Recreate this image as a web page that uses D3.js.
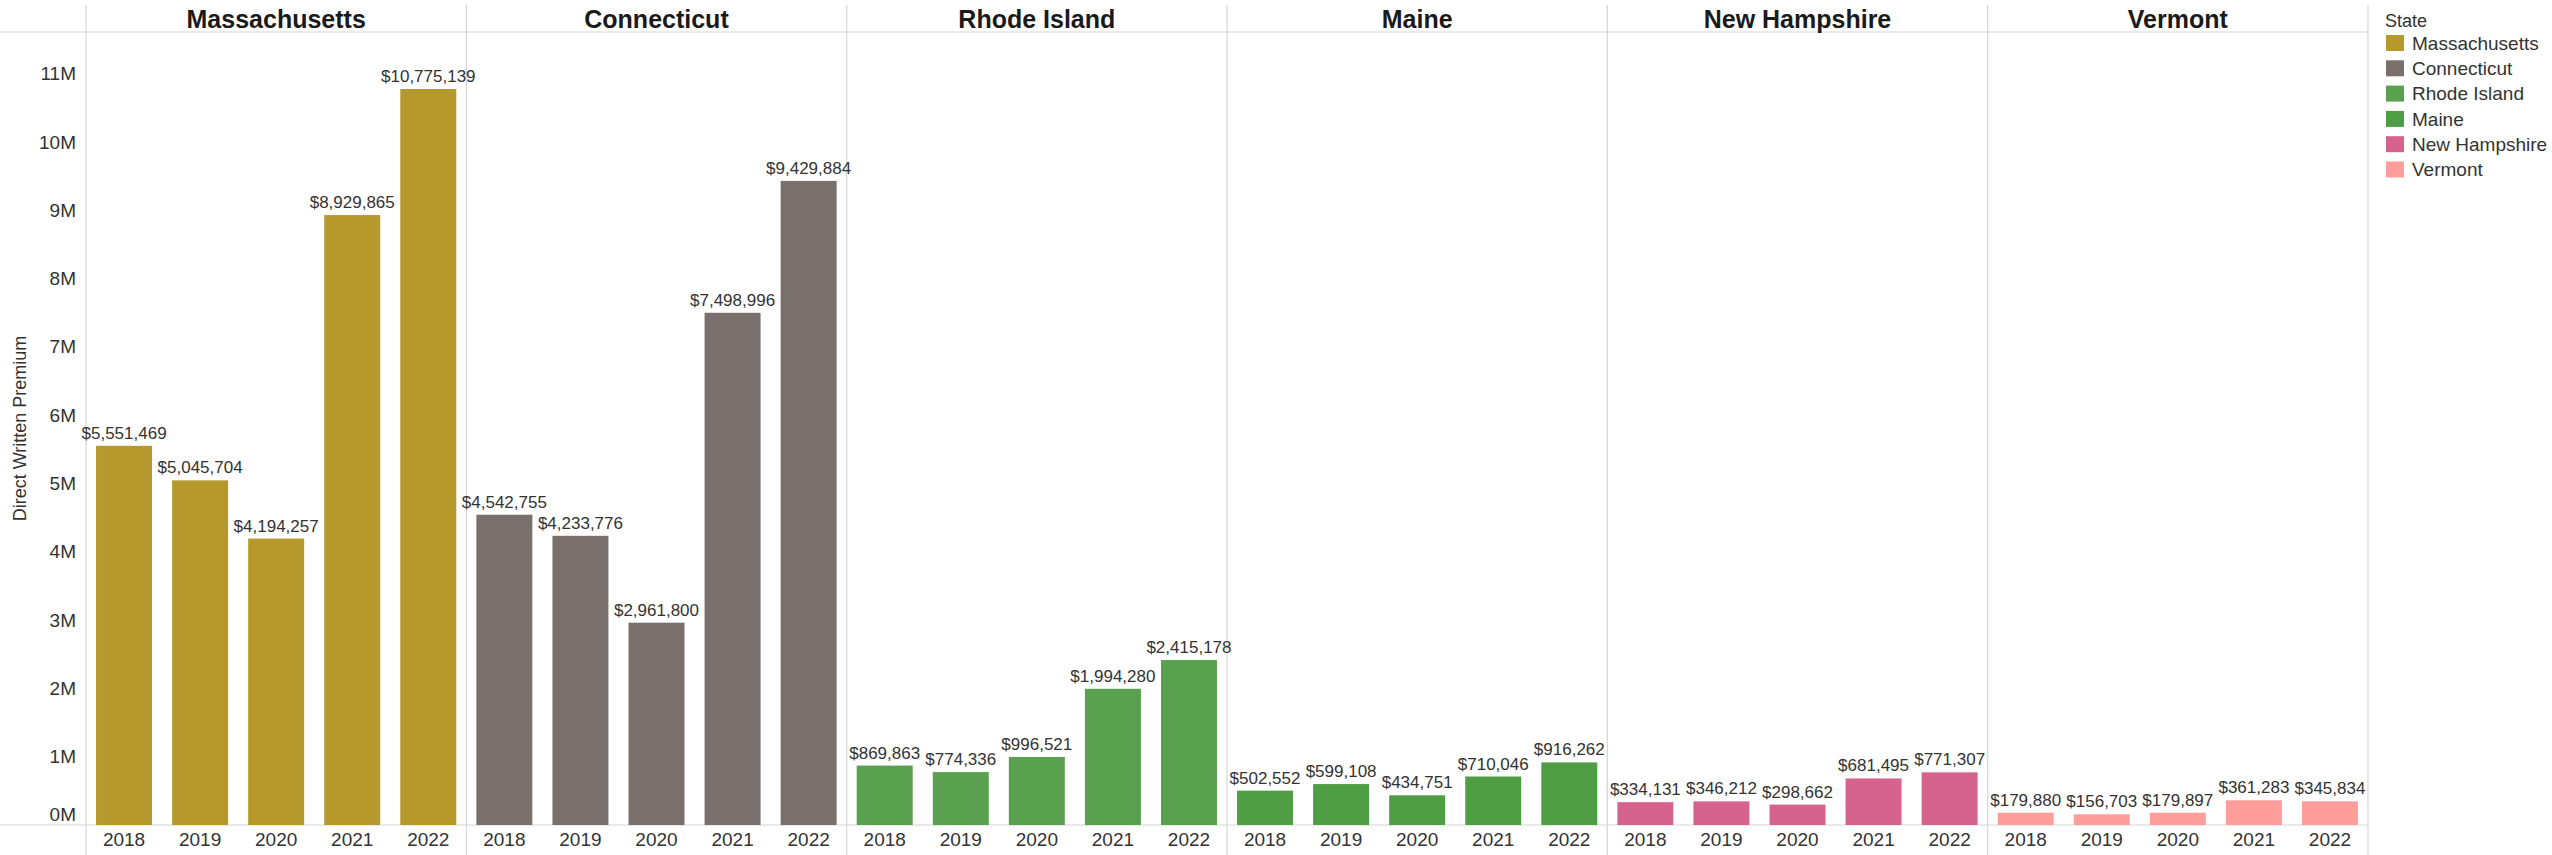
<!DOCTYPE html>
<html>
<head>
<meta charset="utf-8">
<script src="https://cdn.jsdelivr.net/npm/d3@7/dist/d3.min.js"></script>
<style>
  html, body { margin: 0; padding: 0; background: #fff; }
  svg { display: block; font-family: "Liberation Sans", Arial, sans-serif; }
</style>
</head>
<body>
<svg id="chart" width="2552" height="855"></svg>
<script>
// Direct written premium by state and year
const states = ["Massachusetts", "Connecticut", "Rhode Island", "Maine", "New Hampshire", "Vermont"];
const years = ["2018", "2019", "2020", "2021", "2022"];
const massachusetts = [5551469, 5045704, 4194257, 8929865, 10775139];
const connecticut   = [4542755, 4233776, 2961800, 7498996, 9429884];
const rhodeIsland   = [869863, 774336, 996521, 1994280, 2415178];
const maine         = [502552, 599108, 434751, 710046, 916262];
const newHampshire  = [334131, 346212, 298662, 681495, 771307];
const vermont       = [179880, 156703, 179897, 361283, 345834];
const yTicks = [0, 1e6, 2e6, 3e6, 4e6, 5e6, 6e6, 7e6, 8e6, 9e6, 10e6, 11e6];
const stateColors = ["#b6992d", "#79706e", "#59a14f", "#4f9d45", "#d6638c", "#ff9d9a"];

const seriesByState = {
  "Massachusetts": massachusetts,
  "Connecticut": connecticut,
  "Rhode Island": rhodeIsland,
  "Maine": maine,
  "New Hampshire": newHampshire,
  "Vermont": vermont
};

const rows = [];
states.forEach(s => years.forEach((yr, i) => rows.push({ state: s, year: yr, value: seriesByState[s][i] })));

const svg = d3.select("#chart");
const plotLeft = 86, plotRight = 2368, plotTop = 32, plotBottom = 825;
const lineColor = "#d6d6d6";

const fx = d3.scaleBand().domain(states).range([plotLeft, plotRight]);
const x = d3.scaleBand().domain(years).range([0, fx.bandwidth()])
  .paddingInner(0.264).paddingOuter(0.132);
const y = d3.scaleLinear().domain([0, 11610000]).range([plotBottom, plotTop]);
const color = d3.scaleOrdinal().domain(states).range(stateColors);
const money = d3.format("$,");

// frame lines
svg.append("g").selectAll("line.v")
  .data(d3.range(states.length + 1))
  .join("line")
  .attr("x1", i => plotLeft + i * fx.bandwidth())
  .attr("x2", i => plotLeft + i * fx.bandwidth())
  .attr("y1", 5).attr("y2", 855)
  .attr("stroke", lineColor).attr("stroke-width", 1.2);

svg.append("g").selectAll("line.h")
  .data([plotTop, plotBottom])
  .join("line")
  .attr("x1", 0).attr("x2", plotRight)
  .attr("y1", d => d).attr("y2", d => d)
  .attr("stroke", lineColor).attr("stroke-width", 1.2);

// y axis
const yAxis = svg.append("g")
  .attr("transform", `translate(${plotLeft},0)`)
  .call(d3.axisLeft(y).tickValues(yTicks).tickSize(0).tickPadding(10)
    .tickFormat(d => (d / 1e6) + "M"));
yAxis.select(".domain").remove();
yAxis.selectAll("text")
  .attr("font-size", 19).attr("fill", "#333").attr("font-family", "Liberation Sans, Arial, sans-serif")
  .attr("transform", d => d === 0 ? "translate(0,-11)" : null);

svg.append("text")
  .attr("transform", `translate(26,${(plotTop + plotBottom) / 2}) rotate(-90)`)
  .attr("text-anchor", "middle")
  .attr("font-size", 18).attr("fill", "#333")
  .text("Direct Written Premium");

// panels
const panel = svg.selectAll("g.panel")
  .data(states)
  .join("g")
  .attr("class", "panel")
  .attr("transform", s => `translate(${fx(s)},0)`);

panel.append("text")
  .attr("x", fx.bandwidth() / 2).attr("y", 28)
  .attr("text-anchor", "middle")
  .attr("font-size", 25).attr("font-weight", "bold").attr("fill", "#1a1a1a")
  .text(s => s);

panel.selectAll("rect")
  .data(s => rows.filter(r => r.state === s))
  .join("rect")
  .attr("x", d => x(d.year))
  .attr("width", x.bandwidth())
  .attr("y", d => y(d.value))
  .attr("height", d => y(0) - y(d.value))
  .attr("fill", d => color(d.state));

panel.selectAll("text.val")
  .data(s => rows.filter(r => r.state === s))
  .join("text")
  .attr("class", "val")
  .attr("x", d => x(d.year) + x.bandwidth() / 2)
  .attr("y", d => y(d.value) - 7)
  .attr("text-anchor", "middle")
  .attr("font-size", 17).attr("fill", "#333")
  .text(d => money(d.value));

panel.each(function () {
  const ax = d3.select(this).append("g")
    .attr("transform", `translate(0,${plotBottom})`)
    .call(d3.axisBottom(x).tickSize(0).tickPadding(8));
  ax.select(".domain").remove();
  ax.selectAll("text").attr("font-size", 19).attr("fill", "#333")
    .attr("font-family", "Liberation Sans, Arial, sans-serif");
});

// legend
const legend = svg.append("g").attr("transform", "translate(2385,0)");
legend.append("text").attr("x", 0).attr("y", 27)
  .attr("font-size", 18).attr("fill", "#333").text("State");
const item = legend.selectAll("g.item")
  .data(states)
  .join("g")
  .attr("class", "item")
  .attr("transform", (s, i) => `translate(0,${43 + i * 25.3})`);
item.append("rect")
  .attr("x", 1).attr("y", -8).attr("width", 18).attr("height", 16)
  .attr("fill", s => color(s));
item.append("text")
  .attr("x", 27).attr("y", 0).attr("dy", "0.35em")
  .attr("font-size", 19).attr("fill", "#333")
  .text(s => s);
</script>
</body>
</html>
